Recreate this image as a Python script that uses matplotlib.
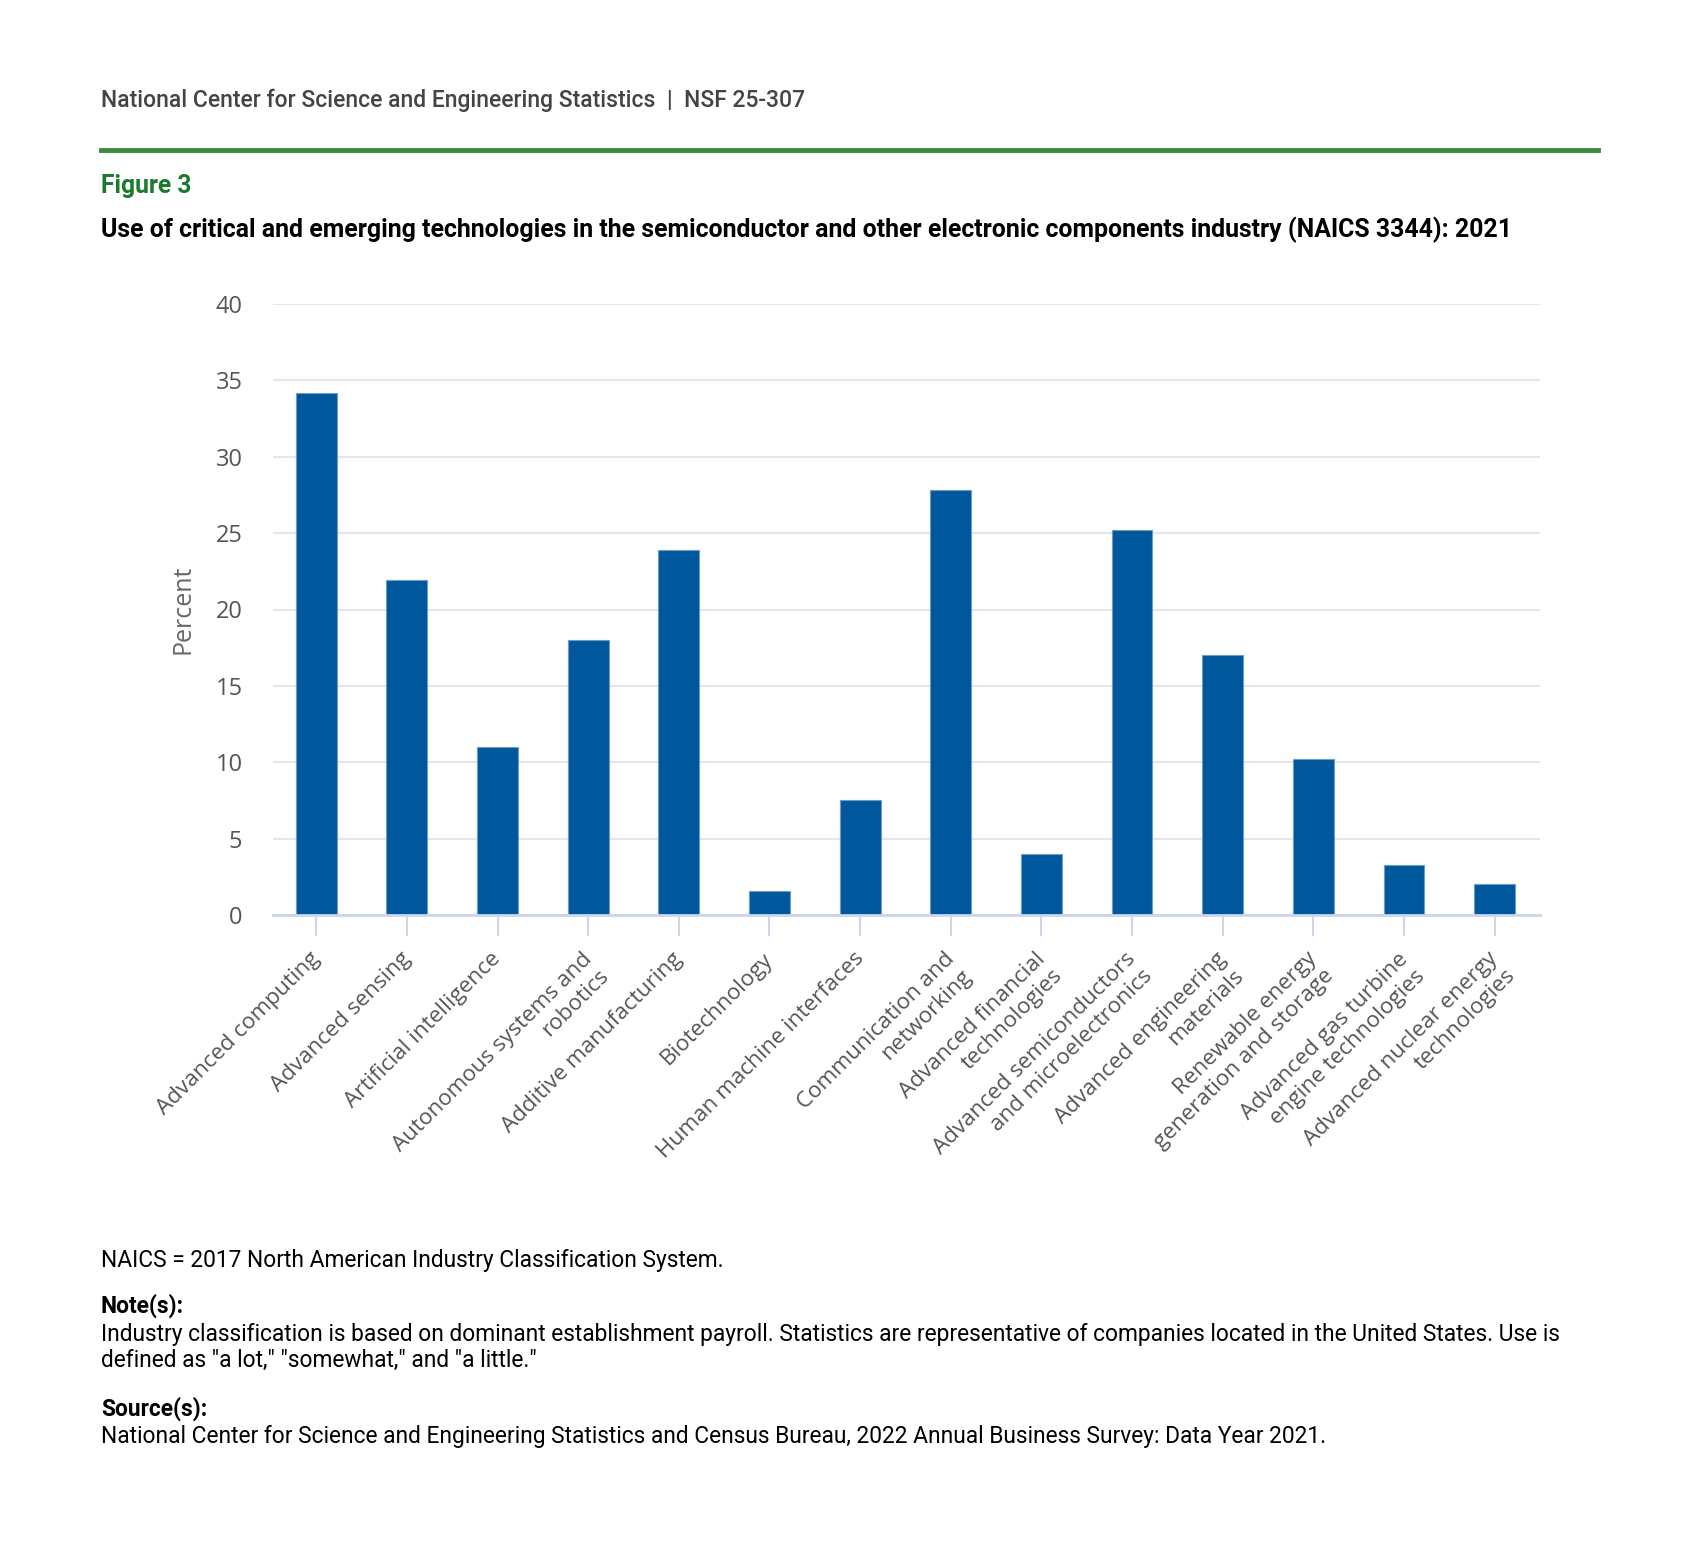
import matplotlib
matplotlib.use('Agg')
import matplotlib.pyplot as plt
import matplotlib.transforms as mtransforms
import numpy as np

categories = [
    "Advanced computing",
    "Advanced sensing",
    "Artificial intelligence",
    "Autonomous systems and\nrobotics",
    "Additive manufacturing",
    "Biotechnology",
    "Human machine interfaces",
    "Communication and\nnetworking",
    "Advanced financial\ntechnologies",
    "Advanced semiconductors\nand microelectronics",
    "Advanced engineering\nmaterials",
    "Renewable energy\ngeneration and storage",
    "Advanced gas turbine\nengine technologies",
    "Advanced nuclear energy\ntechnologies",
]
percent = [34.2, 21.9, 11.0, 18.0, 23.9, 1.6, 7.5, 27.8, 4.0, 25.2, 17.0, 10.2, 3.3, 2.0]
yticks = [0, 5, 10, 15, 20, 25, 30, 35, 40]

W, H = 1699, 1559
fig = plt.figure(figsize=(W / 100, H / 100), dpi=100)

def fx(px):
    return px / W

def fy(py):
    return 1 - py / H

# header
fig.text(fx(101), fy(107), "National Center for Science and Engineering Statistics  |  NSF 25-307",
         family="Roboto", fontsize=16.5, weight="medium", color="#444444", va="baseline")
fig.add_artist(plt.Line2D([fx(101), fx(1598)], [fy(150), fy(150)], color="#3a8a3f", lw=3.5))
fig.text(fx(101), fy(193), "Figure 3", family="Roboto", fontsize=17.7, weight="bold",
         color="#1b7a2e", va="baseline")
fig.text(fx(101), fy(237),
         "Use of critical and emerging technologies in the semiconductor and other electronic components industry (NAICS 3344): 2021",
         family="Roboto", fontsize=17.9, weight="bold", color="black", va="baseline")

# chart
L, R, T, B = 273, 1540, 304, 915
ax = fig.add_axes([fx(L), fy(B), fx(R) - fx(L), fy(T) - fy(B)])
x = np.arange(len(categories))
ax.bar(x, percent, width=0.45, color="#00589c", edgecolor="#6b9ccc", linewidth=0.8, zorder=3)
ax.set_xlim(-0.477, len(categories) - 0.5)
ax.set_ylim(0, 40)
ax.set_yticks(yticks)
ax.grid(axis="y", color="#e6e6e6", lw=1.5, zorder=0)
for s in ["top", "right", "left"]:
    ax.spines[s].set_visible(False)
ax.spines["bottom"].set_color("#ccd6eb")
ax.spines["bottom"].set_linewidth(2)
ax.spines["bottom"].set_zorder(4)
ax.tick_params(axis="y", length=0, pad=22, labelsize=17, labelcolor="#555555")
ax.tick_params(axis="x", length=15, width=1.5, color="#ccd6eb", pad=9,
               labelsize=16.2, labelcolor="#555555")
for lab in ax.get_yticklabels():
    lab.set_family("Open Sans")
ax.set_xticks(x)
ax.set_xticklabels(categories, rotation=45, ha="right", va="top",
                   rotation_mode="anchor", family="Open Sans", multialignment="right")
shift = mtransforms.ScaledTranslation(-7 / 100, 0, fig.dpi_scale_trans)
for lab in ax.get_xticklabels():
    lab.set_transform(lab.get_transform() + shift)
ax.set_ylabel("Percent", family="Open Sans", fontsize=18, color="#666666")
ax.yaxis.set_label_coords((196 - L) / (R - L), 0.5)

# footnotes
fs = 16.4
fig.text(fx(101), fy(1267), "NAICS = 2017 North American Industry Classification System.",
         family="Roboto", fontsize=fs, color="black", va="baseline")
fig.text(fx(101), fy(1313), "Note(s):", family="Roboto", fontsize=fs, weight="bold",
         color="black", va="baseline")
fig.text(fx(101), fy(1341),
         "Industry classification is based on dominant establishment payroll. Statistics are representative of companies located in the United States. Use is",
         family="Roboto", fontsize=fs, color="black", va="baseline")
fig.text(fx(101), fy(1367), 'defined as "a lot," "somewhat," and "a little."',
         family="Roboto", fontsize=fs, color="black", va="baseline")
fig.text(fx(101), fy(1416), "Source(s):", family="Roboto", fontsize=fs, weight="bold",
         color="black", va="baseline")
fig.text(fx(101), fy(1443),
         "National Center for Science and Engineering Statistics and Census Bureau, 2022 Annual Business Survey: Data Year 2021.",
         family="Roboto", fontsize=fs, color="black", va="baseline")

fig.savefig("out.png", dpi=100, facecolor="white")
